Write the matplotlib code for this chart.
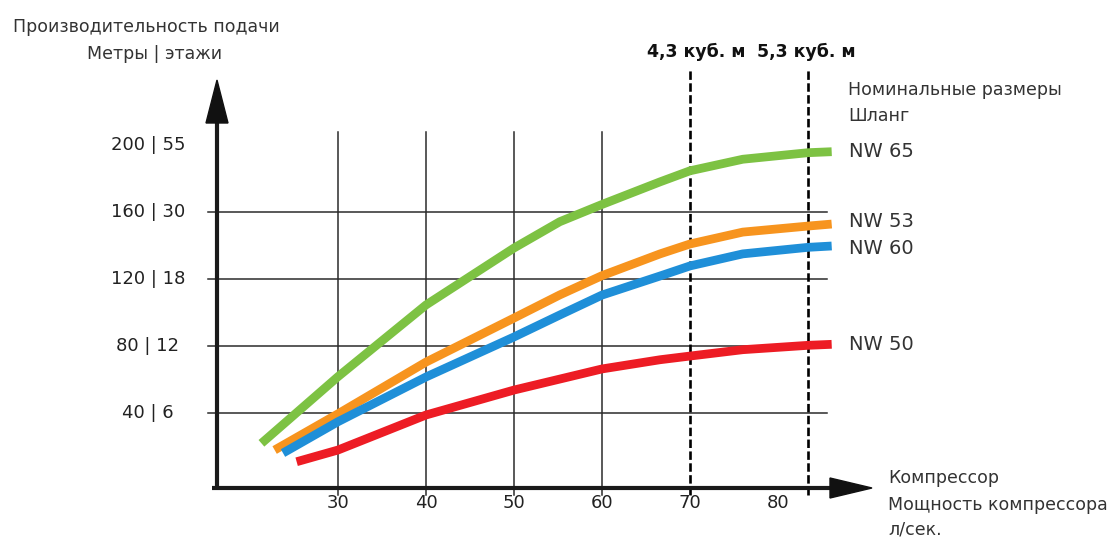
import matplotlib
matplotlib.use("Agg")
import matplotlib.pyplot as plt
from matplotlib.patches import Polygon

# ---- data ----
x_nw65 = [21.3, 30, 40, 50, 55.2, 60, 66.6, 70, 76, 83.4, 86.1]
y_nw65 = [21.9, 61.7, 104.5, 138.5, 154.2, 164.5, 178.0, 184.6, 191.5, 195.4, 196.0]

x_nw53 = [22.8, 30, 40, 50, 55.2, 60, 66.6, 70, 76, 83.4, 86.1]
y_nw53 = [17.9, 39.5, 70.4, 96.7, 110.5, 122.0, 135.0, 140.9, 148.0, 151.6, 152.8]

x_nw60 = [23.75, 30, 40, 50, 55.2, 60, 66.6, 70, 76, 83.4, 86.1]
y_nw60 = [16.1, 34.8, 61.5, 85.4, 98.5, 110.4, 121.8, 127.8, 135.0, 138.9, 139.7]

x_nw50 = [25.3, 30, 40, 50, 60, 66.6, 70, 76, 83.4, 86.1]
y_nw50 = [10.9, 17.9, 38.8, 53.7, 66.3, 71.8, 74.0, 77.8, 80.4, 81.0]

series_names = ["NW 65", "NW 53", "NW 60", "NW 50"]
series_colors = ["#7dc243", "#f7941e", "#1f8fd8", "#ed1c24"]

x_ticks = [30, 40, 50, 60, 70, 80]
x_grid_solid = [30, 40, 50, 60]
x_dashed = [70, 83.4]
dashed_labels = ["4,3 куб. м", "5,3 куб. м"]
y_grid = [40, 80, 120, 160]
y_ticks = [40, 80, 120, 160, 200]
y_tick_labels = ["40 | 6", "80 | 12", "120 | 18", "160 | 30", "200 | 55"]

# ---- figure: one axes covering the whole canvas ----
W, H = 1108, 538
fig = plt.figure(figsize=(W / 100, H / 100), dpi=100)
ax = fig.add_axes([0, 0, 1, 1])
ax.set_axis_off()

# pixel mapping: x=30 -> px 338, 8.8 px per unit ; y=40 -> py 413, 1.675 px per unit
xpx0, xscale = 338, 8.8
ypx0, yscale = 413, 1.675
def X(px):
    return 30 + (px - xpx0) / xscale
def Y(py):
    return 40 + (ypx0 - py) / yscale
ax.set_xlim(X(0), X(W))
ax.set_ylim(Y(H), Y(0))

x_axis_y = Y(488)
y_axis_x = X(217)
grid_col = "#2b2b2b"

# grid lines
for gx in x_grid_solid:
    ax.plot([gx, gx], [Y(495), Y(132)], color=grid_col, lw=1.1, zorder=1)
for gy in y_grid:
    ax.plot([X(208), X(827)], [gy, gy], color=grid_col, lw=1.1, zorder=1)
for dx in x_dashed:
    ax.plot([dx, dx], [Y(495), Y(70)], color="black", lw=1.9,
            dashes=(3.2, 1.3), zorder=1)

# axes with arrows
ax.plot([y_axis_x, y_axis_x], [x_axis_y, Y(118)], color="#1a1a1a", lw=3, zorder=3,
        solid_capstyle="butt")
ax.plot([X(212), X(835)], [x_axis_y, x_axis_y], color="#1a1a1a", lw=3, zorder=3,
        solid_capstyle="butt")
ax.add_patch(Polygon([(X(206), Y(123)), (X(228), Y(123)), (X(217), Y(80))],
                     closed=True, color="#111111", zorder=4))
ax.add_patch(Polygon([(X(830), Y(478)), (X(830), Y(498)), (X(872), Y(488))],
                     closed=True, color="#111111", zorder=4))

# curves
for xs, ys, c in zip([x_nw65, x_nw53, x_nw60, x_nw50],
                     [y_nw65, y_nw53, y_nw60, y_nw50], series_colors):
    ax.plot(xs, ys, color=c, lw=6.3, solid_capstyle="butt",
            solid_joinstyle="round", zorder=2)

# series labels
lab_fs = 14
label_offsets = {"NW 65": 0.0, "NW 53": 1.8, "NW 60": -1.4, "NW 50": 0.0}
for xs, ys, name in zip([x_nw65, x_nw53, x_nw60, x_nw50],
                        [y_nw65, y_nw53, y_nw60, y_nw50], series_names):
    ax.text(X(849), ys[-1] + label_offsets[name], name, fontsize=lab_fs,
            color="#333333", ha="left", va="center", family="DejaVu Sans")

# tick labels
for xt in x_ticks:
    ax.text(xt, Y(503), str(xt), fontsize=13, color="#222222", ha="center",
            va="center", family="DejaVu Sans")
for yt, lab in zip(y_ticks, y_tick_labels):
    ax.text(X(148), yt, lab, fontsize=13, color="#222222", ha="center",
            va="center", family="DejaVu Sans")

# dashed line labels
ax.text(X(696), Y(52), dashed_labels[0], fontsize=12.5, fontweight="bold",
        color="#111111", ha="center", va="center", family="DejaVu Sans")
ax.text(X(806), Y(52), dashed_labels[1], fontsize=12.5, fontweight="bold",
        color="#111111", ha="center", va="center", family="DejaVu Sans")

# other texts
small = dict(fontsize=12.5, color="#333333", va="center", family="DejaVu Sans")
ax.text(X(848), Y(90), "Номинальные размеры", ha="left", **small)
ax.text(X(848), Y(116), "Шланг", ha="left", **small)
ax.text(X(13), Y(27), "Производительность подачи", ha="left", **small)
ax.text(X(155), Y(54), "Метры | этажи", ha="center", **small)
ax.text(X(888), Y(478), "Компрессор", ha="left", **small)
ax.text(X(888), Y(505), "Мощность компрессора", ha="left", **small)
ax.text(X(888), Y(530), "л/сек.", ha="left", **small)

fig.savefig("out.png", dpi=100)
